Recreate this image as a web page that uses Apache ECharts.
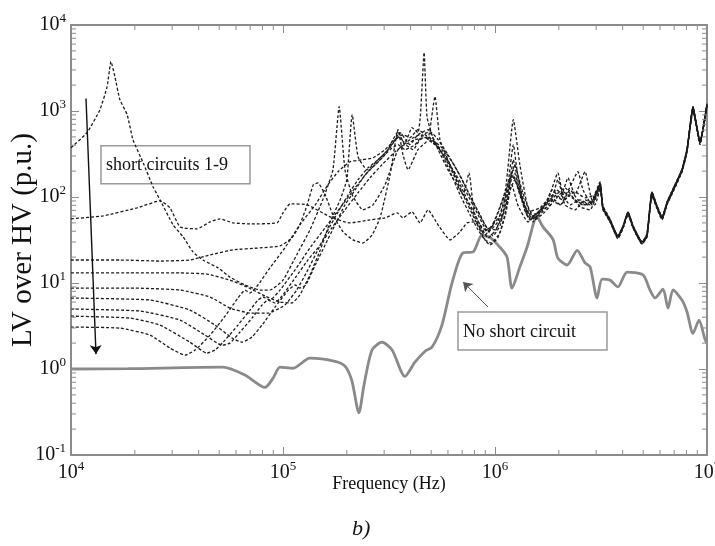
<!DOCTYPE html>
<html>
<head>
<meta charset="utf-8">
<script src="https://cdn.jsdelivr.net/npm/echarts@6/dist/echarts.min.js"></script>
<style>
  html, body { margin: 0; padding: 0; background: #ffffff; }
  #chart { width: 715px; height: 546px; }
</style>
</head>
<body>
<div id="chart"></div>
<script>
// Transfer function LV/HV in p.u. versus frequency in Hz: [frequency, magnitude]
const sc1 = [[1.00e4,374],[1.19e4,560],[1.37e4,1038],[1.48e4,1920],[1.544e4,3765],[1.61e4,2520],[1.70e4,1358],[1.84e4,908],[1.96e4,464],[2.19e4,250],[2.44e4,131],[2.63e4,92.7],[3.03e4,47.4],[3.38e4,34.4],[3.76e4,23.0],[4.19e4,18.5],[4.94e4,15.0],[5.62e4,11.7],[6.62e4,9.48],[7.79e4,8.28],[8.68e4,8.28],[1.0e5,10.8],[1.16e5,21.2],[1.34e5,41.5],[1.54e5,92.7],[1.72e5,207],[1.84e5,1125],[1.96e5,207],[2.12e5,106],[2.38e5,70.9],[2.66e5,81.1],[3.03e5,139],[3.49e5,355],[3.97e5,464],[4.43e5,531],[4.94e5,464],[5.50e5,355],[6.34e5,207],[7.22e5,121],[8.32e5,62.0],[9.27e5,39.3],[1.03e6,51.4],[1.15e6,139],[1.22e6,406],[1.28e6,181],[1.43e6,67.2],[1.63e6,74.8],[1.88e6,106],[2.09e6,92.7],[2.38e6,115],[2.66e6,97.9],[2.96e6,106],[3.13e6,139],[3.23e6,76.9],[3.49e6,51.4],[3.80e6,33.4],[4.02e6,43.8],[4.24e6,62.0],[4.48e6,43.8],[4.94e6,28.5],[5.21e6,35.3],[5.50e6,106],[5.81e6,74.8],[6.14e6,55.7],[6.48e6,83.3],[6.92e6,118],[7.63e6,202],[8.05e6,345],[8.59e6,1038],[9.27e6,429],[1.0e7,1156]];

const sc2 = [[1.0e4,55.7],[1.42e4,60.4],[2.05e4,74.8],[2.63e4,90.3],[2.93e4,74.8],[3.27e4,44.9],[3.93e4,42.6],[4.53e4,51.4],[5.05e4,55.7],[5.81e4,50.0],[6.99e4,48.7],[9.37e4,50.0],[1.0e5,65.4],[1.08e5,83.3],[1.30e5,81.1],[1.67e5,58.7],[2.07e5,50.0],[2.57e5,54.2],[3.03e5,57.2],[3.45e5,65.4],[3.68e5,57.2],[4.06e5,67.2],[4.43e5,50.0],[4.83e5,70.9],[5.39e5,47.4],[6.14e5,31.7],[6.84e5,39.3],[7.38e5,50.0],[8.05e5,51.4],[8.97e5,36.2],[9.79e5,47.4],[1.09e6,92.7],[1.22e6,207],[1.31e6,121],[1.46e6,57.2],[1.63e6,67.2],[1.82e6,81.1],[1.98e6,159],[2.14e6,81.1],[2.38e6,70.9],[2.66e6,92.7],[2.96e6,81.1],[3.13e6,128],[3.23e6,72.9],[3.49e6,52.8],[3.80e6,35.3],[4.02e6,46.2],[4.24e6,67.2],[4.48e6,46.2],[4.94e6,30.1],[5.21e6,36.2],[5.50e6,115],[5.81e6,78.9],[6.14e6,58.7],[6.48e6,87.9],[6.92e6,125],[7.63e6,213],[8.05e6,365],[8.59e6,1125],[9.27e6,440],[1.0e7,1220]];

const sc3 = [[1.0e4,18.5],[1.70e4,18.5],[2.63e4,18.0],[3.64e4,18.5],[4.53e4,21.2],[5.81e4,24.3],[7.79e4,25.6],[9.68e4,27.0],[1.10e5,33.4],[1.20e5,47.4],[1.30e5,81.1],[1.39e5,139],[1.46e5,146],[1.58e5,106],[1.72e5,62.0],[1.92e5,39.3],[2.14e5,31.7],[2.38e5,29.2],[2.63e5,36.2],[2.87e5,57.2],[3.20e5,181],[3.49e5,607],[3.68e5,310],[3.89e5,207],[4.33e5,355],[4.83e5,464],[5.21e5,1472],[5.50e5,464],[6.14e5,237],[7.07e5,106],[8.05e5,54.2],[8.97e5,31.7],[9.47e5,27.7],[1.03e6,33.4],[1.12e6,62.0],[1.20e6,139],[1.28e6,81.1],[1.43e6,51.4],[1.63e6,70.9],[1.78e6,92.7],[1.98e6,191],[2.09e6,106],[2.26e6,81.1],[2.52e6,92.7],[2.81e6,81.1],[3.13e6,142],[3.23e6,78.9],[3.49e6,55.7],[3.80e6,34.4],[4.02e6,44.9],[4.24e6,65.4],[4.48e6,44.9],[4.94e6,29.2],[5.21e6,36.2],[5.50e6,112],[5.81e6,76.9],[6.14e6,57.2],[6.48e6,85.5],[6.92e6,121],[7.63e6,207],[8.05e6,355],[8.59e6,1096],[9.27e6,428],[1.0e7,1186]];

const sc4 = [[1.0e4,13.1],[1.90e4,13.1],[3.27e4,13.1],[4.38e4,12.7],[5.62e4,10.8],[6.77e4,8.98],[8.23e4,7.06],[9.68e4,6.01],[1.10e5,5.85],[1.20e5,7.24],[1.34e5,12.4],[1.50e5,24.3],[1.67e5,51.4],[1.86e5,92.7],[2.00e5,159],[2.12e5,908],[2.26e5,294],[2.49e5,207],[2.81e5,271],[3.13e5,355],[3.38e5,464],[3.56e5,560],[3.97e5,406],[4.33e5,531],[4.83e5,607],[5.39e5,355],[6.00e5,207],[6.84e5,121],[7.63e5,81.1],[8.50e5,47.4],[9.27e5,39.3],[1.02e6,62.0],[1.12e6,121],[1.22e6,794],[1.31e6,237],[1.42e6,81.1],[1.54e6,57.2],[1.72e6,81.1],[1.86e6,121],[2.03e6,97.9],[2.21e6,167],[2.38e6,106],[2.66e6,197],[2.87e6,92.7],[3.13e6,150],[3.23e6,74.8],[3.49e6,54.2],[3.80e6,35.3],[4.02e6,46.2],[4.24e6,65.4],[4.48e6,46.2],[4.94e6,30.1],[5.21e6,37.2],[5.50e6,112],[5.81e6,78.9],[6.14e6,58.7],[6.48e6,85.5],[6.92e6,121],[7.63e6,207],[8.05e6,355],[8.59e6,1096],[9.27e6,428],[1.0e7,1186]];

const sc5 = [[1.0e4,8.74],[1.90e4,8.74],[3.27e4,8.28],[4.53e4,6.87],[5.62e4,5.11],[6.99e4,4.47],[8.50e4,4.47],[1.02e5,5.54],[1.16e5,8.28],[1.31e5,14.2],[1.46e5,24.3],[1.63e5,41.5],[1.82e5,67.2],[2.03e5,106],[2.26e5,159],[2.52e5,219],[2.81e5,271],[3.20e5,374],[3.49e5,503],[3.76e5,428],[4.06e5,641],[4.33e5,560],[4.45e5,900],[4.63e5,4790],[4.78e5,850],[5.10e5,490],[5.50e5,355],[6.14e5,197],[6.84e5,106],[7.63e5,62.0],[8.32e5,41.5],[8.97e5,31.7],[9.58e5,29.2],[1.06e6,39.3],[1.15e6,92.7],[1.22e6,271],[1.28e6,159],[1.39e6,67.2],[1.51e6,51.4],[1.68e6,74.8],[1.82e6,92.7],[2.03e6,81.1],[2.26e6,121],[2.46e6,92.7],[2.75e6,81.1],[3.06e6,103],[3.13e6,135],[3.23e6,70.9],[3.49e6,51.4],[3.80e6,32.6],[4.02e6,43.8],[4.24e6,63.7],[4.48e6,43.8],[4.94e6,28.5],[5.21e6,34.4],[5.50e6,103],[5.81e6,72.9],[6.14e6,54.2],[6.48e6,81.1],[6.92e6,115],[7.63e6,197],[8.05e6,336],[8.59e6,984],[9.27e6,406],[1.0e7,1125]];

const sc6 = [[1.0e4,6.68],[2.36e4,6.34],[3.64e4,4.85],[4.78e4,3.24],[5.75e4,2.29],[6.41e4,2.05],[7.14e4,2.35],[7.96e4,3.24],[9.17e4,5.25],[1.06e5,8.28],[1.14e5,9.48],[1.20e5,8.74],[1.28e5,9.48],[1.42e5,16.2],[1.58e5,27.7],[1.76e5,47.4],[1.96e5,81.1],[2.19e5,121],[2.44e5,181],[2.72e5,237],[3.03e5,310],[3.30e5,464],[3.49e5,575],[3.76e5,406],[4.20e5,464],[4.68e5,490],[5.05e5,428],[5.62e5,355],[6.48e5,181],[7.22e5,106],[8.05e5,57.2],[8.78e5,39.3],[9.47e5,43.8],[1.06e6,62.0],[1.18e6,159],[1.24e6,237],[1.34e6,121],[1.49e6,62.0],[1.63e6,67.2],[1.82e6,92.7],[1.94e6,121],[2.14e6,106],[2.46e6,197],[2.60e6,121],[2.87e6,81.1],[3.13e6,146],[3.23e6,76.9],[3.49e6,52.8],[3.80e6,34.4],[4.02e6,44.9],[4.24e6,65.4],[4.48e6,44.9],[4.94e6,29.2],[5.21e6,35.3],[5.50e6,109],[5.81e6,76.9],[6.14e6,57.2],[6.48e6,83.3],[6.92e6,118],[7.63e6,202],[8.05e6,345],[8.59e6,1067],[9.27e6,429],[1.0e7,1156]];

const sc7 = [[1.0e4,4.98],[2.12e4,4.72],[3.27e4,3.71],[4.29e4,2.48],[5.16e4,1.89],[5.62e4,2.00],[6.27e4,2.69],[7.14e4,3.91],[7.96e4,5.54],[8.50e4,6.34],[9.17e4,5.85],[9.89e4,7.06],[1.14e5,11.4],[1.31e5,18.5],[1.50e5,27.7],[1.70e5,43.8],[1.96e5,70.9],[2.26e5,112],[2.57e5,167],[2.93e5,237],[3.38e5,336],[3.76e5,406],[4.11e5,355],[4.43e5,464],[4.83e5,503],[5.27e5,406],[5.81e5,286],[6.48e5,167],[7.07e5,106],[7.54e5,191],[7.96e5,67.2],[8.50e5,47.4],[9.27e5,33.4],[1.01e6,41.5],[1.12e6,81.1],[1.20e6,181],[1.27e6,139],[1.39e6,74.8],[1.54e6,54.2],[1.72e6,67.2],[1.92e6,92.7],[2.09e6,115],[2.31e6,97.9],[2.60e6,81.1],[2.90e6,92.7],[3.13e6,142],[3.23e6,74.8],[3.49e6,54.2],[3.80e6,34.4],[4.02e6,44.9],[4.24e6,65.4],[4.48e6,44.9],[4.94e6,29.2],[5.21e6,36.2],[5.50e6,112],[5.81e6,76.9],[6.14e6,57.2],[6.48e6,85.5],[6.92e6,121],[7.63e6,207],[8.05e6,355],[8.59e6,1096],[9.27e6,428],[1.0e7,1186]];

const sc8 = [[1.0e4,4.12],[1.90e4,3.91],[2.63e4,3.24],[3.64e4,2.05],[4.38e4,1.53],[4.78e4,1.66],[5.33e4,2.17],[6.13e4,3.24],[6.99e4,4.85],[7.62e4,6.34],[8.05e4,6.87],[8.68e4,6.34],[9.68e4,8.28],[1.14e5,14.2],[1.34e5,25.6],[1.58e5,43.8],[1.86e5,74.8],[2.19e5,128],[2.52e5,197],[2.87e5,271],[3.20e5,355],[3.49e5,406],[3.76e5,355],[4.20e5,406],[4.58e5,531],[4.94e5,575],[5.39e5,464],[6.00e5,310],[6.69e5,197],[7.46e5,115],[8.23e5,70.9],[8.97e5,47.4],[9.79e5,35.3],[1.06e6,47.4],[1.14e6,106],[1.22e6,181],[1.31e6,106],[1.46e6,54.2],[1.63e6,62.0],[1.78e6,81.1],[1.92e6,103],[2.14e6,128],[2.38e6,92.7],[2.66e6,81.1],[2.96e6,97.9],[3.13e6,139],[3.23e6,76.9],[3.49e6,54.2],[3.80e6,35.3],[4.02e6,46.2],[4.24e6,67.2],[4.48e6,46.2],[4.94e6,30.1],[5.21e6,37.2],[5.50e6,115],[5.81e6,78.9],[6.14e6,58.7],[6.48e6,87.9],[6.92e6,125],[7.63e6,213],[8.05e6,365],[8.59e6,1125],[9.27e6,440],[1.0e7,1220]];

const sc9 = [[1.0e4,3.07],[1.70e4,2.99],[2.36e4,2.48],[2.93e4,1.75],[3.45e4,1.45],[3.85e4,1.66],[4.53e4,2.48],[5.33e4,4.12],[6.13e4,6.68],[6.62e4,8.28],[6.99e4,7.64],[7.62e4,9.48],[8.68e4,15.0],[1.02e5,25.6],[1.20e5,47.4],[1.42e5,81.1],[1.63e5,139],[1.82e5,197],[2.07e5,257],[2.36e5,271],[2.66e5,286],[3.03e5,355],[3.38e5,464],[3.68e5,531],[3.97e5,490],[4.33e5,607],[4.68e5,531],[5.05e5,464],[5.62e5,374],[6.27e5,257],[6.99e5,159],[7.79e5,92.7],[8.50e5,62.0],[9.17e5,43.8],[1.0e6,41.5],[1.09e6,62.0],[1.18e6,121],[1.24e6,159],[1.34e6,92.7],[1.49e6,57.2],[1.67e6,74.8],[1.86e6,97.9],[2.03e6,81.1],[2.26e6,106],[2.52e6,76.9],[2.81e6,70.9],[3.13e6,131],[3.23e6,72.9],[3.49e6,51.4],[3.80e6,33.4],[4.02e6,43.8],[4.24e6,63.7],[4.48e6,43.8],[4.94e6,28.5],[5.21e6,34.4],[5.50e6,106],[5.81e6,74.8],[6.14e6,55.7],[6.48e6,83.3],[6.92e6,118],[7.63e6,202],[8.05e6,345],[8.59e6,1038],[9.27e6,429],[1.0e7,1156]];

// Healthy winding (no short circuit)
const noShort = [[1.0e4,1.0],[1.86e4,1.01],[5.21e4,1.05],[6.62e4,0.85],[8.22e4,0.61],[8.97e4,0.78],[9.68e4,1.05],[1.115e5,1.02],[1.34e5,1.34],[1.76e5,1.23],[1.96e5,1.08],[2.11e5,0.74],[2.28e5,0.31],[2.41e5,0.65],[2.63e5,1.66],[2.93e5,2.05],[3.27e5,1.66],[3.76e5,0.82],[4.19e5,1.20],[4.68e5,1.61],[5.05e5,1.80],[5.62e5,3.24],[6.27e5,10],[7.06e5,22.4],[7.88e5,23],[8.68e5,36],[9.47e5,34],[1.056e6,26],[1.14e6,20],[1.203e6,8.7],[1.31e6,15.4],[1.416e6,26],[1.578e6,59],[1.684e6,45],[1.879e6,32],[1.98e6,19.5],[2.19e6,16.2],[2.44e6,24],[2.66e6,17.1],[2.81e6,15.4],[3.03e6,6.7],[3.20e6,11.1],[3.49e6,10.8],[3.80e6,9.0],[4.20e6,13.4],[4.99e6,12.4],[5.38e6,8.3],[5.69e6,6.7],[6.20e6,8.5],[6.55e6,5.1],[6.92e6,8.3],[7.63e6,6.3],[8.05e6,4.6],[8.59e6,2.6],[9.17e6,3.7],[9.79e6,2.2],[1.0e7,2.0]];

const shortCircuits = [sc1, sc2, sc3, sc4, sc5, sc6, sc7, sc8, sc9];

// axis ranges (decades)
const X_MIN = 1e4, X_MAX = 1e7;
const Y_MIN = 1e-1, Y_MAX = 1e4;

// minor log ticks 2..9 within each decade
const xMinor = [];
for (let d = 4; d < 7; d++) for (let m = 2; m <= 9; m++) xMinor.push(m * Math.pow(10, d));
const yMinor = [];
for (let d = -1; d < 4; d++) for (let m = 2; m <= 9; m++) yMinor.push(m * Math.pow(10, d));

const SERIF = '"Liberation Serif", "Times New Roman", serif';
const AXIS_COLOR = '#8c8c8c';
const TEXT_COLOR = '#111111';

const powerLabel = v => '{b|10}{e|' + Math.round(Math.log10(v)) + '}';
const labelRich = {
  b: { fontFamily: SERIF, fontSize: 20, color: TEXT_COLOR, lineHeight: 26 },
  e: { fontFamily: SERIF, fontSize: 13, color: TEXT_COLOR, lineHeight: 13, verticalAlign: 'top' }
};

function logAxis(extra) {
  return Object.assign({
    type: 'log',
    logBase: 10,
    axisLine: { show: true, onZero: false, lineStyle: { color: AXIS_COLOR, width: 2 } },
    axisTick: { show: true, inside: true, length: 8, lineStyle: { color: AXIS_COLOR, width: 1 } },
    minorTick: { show: false },
    splitLine: { show: false },
    minorSplitLine: { show: false }
  }, extra);
}

const minorTickData = xMinor.map(v => [v, 1, 0]).concat(yMinor.map(v => [1e5, v, 1]));

function renderMinorTick(params, api) {
  const cs = params.coordSys;
  const style = { stroke: AXIS_COLOR, lineWidth: 1 };
  if (api.value(2) === 0) {
    const x = api.coord([api.value(0), 1])[0];
    const b = cs.y + cs.height, t = cs.y;
    return { type: 'group', children: [
      { type: 'line', shape: { x1: x, y1: b, x2: x, y2: b - 5 }, style: style },
      { type: 'line', shape: { x1: x, y1: t, x2: x, y2: t + 5 }, style: style }
    ] };
  }
  const y = api.coord([1e5, api.value(1)])[1];
  const l = cs.x, r = cs.x + cs.width;
  return { type: 'group', children: [
    { type: 'line', shape: { x1: l, y1: y, x2: l + 5, y2: y }, style: style },
    { type: 'line', shape: { x1: r, y1: y, x2: r - 5, y2: y }, style: style }
  ] };
}

const dashedSeries = shortCircuits.map((d, i) => ({
  name: 'short circuit ' + (i + 1),
  type: 'line',
  data: d,
  symbol: 'none',
  smooth: 0.15,
  lineStyle: { color: '#1c1c1c', width: 1.3, type: [3, 2] },
  z: 3
}));

const chart = echarts.init(document.getElementById('chart'), null, { renderer: 'canvas' });

chart.setOption({
  animation: false,
  backgroundColor: '#ffffff',
  grid: { left: 71, right: 8, top: 25, bottom: 91, containLabel: false, outerBoundsMode: 'none' },
  xAxis: [
    logAxis({
      min: X_MIN, max: X_MAX, position: 'bottom',
      axisLabel: { formatter: powerLabel, rich: labelRich, margin: 5, showMinLabel: true, showMaxLabel: true },
      name: 'Frequency (Hz)', nameLocation: 'middle', nameGap: 20, nameMoveOverlap: false,
      nameTextStyle: { fontFamily: SERIF, fontSize: 18, color: TEXT_COLOR }
    }),
    logAxis({ min: X_MIN, max: X_MAX, position: 'top', axisLabel: { show: false } })
  ],
  yAxis: [
    logAxis({
      min: Y_MIN, max: Y_MAX, position: 'left',
      axisLabel: { formatter: powerLabel, rich: labelRich, margin: 5, showMinLabel: true, showMaxLabel: true },
      name: 'LV over HV (p.u.)', nameLocation: 'middle', nameGap: 33, nameMoveOverlap: false,
      nameTextStyle: { fontFamily: SERIF, fontSize: 29, color: TEXT_COLOR }
    }),
    logAxis({ min: Y_MIN, max: Y_MAX, position: 'right', axisLabel: { show: false } })
  ],
  series: dashedSeries.concat([
    {
      name: 'No short circuit',
      type: 'line',
      data: noShort,
      symbol: 'none',
      smooth: 0.25,
      lineStyle: { color: '#8a8a8a', width: 2.8 },
      z: 2,
      markLine: {
        silent: true,
        symbol: ['none', 'arrow'],
        symbolSize: 9,
        label: { show: false },
        data: [
          [{ coord: [11770, 1395], lineStyle: { color: '#111111', width: 1.4, type: 'solid' } },
           { coord: [13120, 1.49] }],
          [{ coord: [9.27e5, 5.25], lineStyle: { color: '#555555', width: 1, type: 'solid' } },
           { coord: [7.07e5, 10.3] }]
        ]
      }
    },
    {
      name: 'minor ticks',
      type: 'custom',
      data: minorTickData,
      renderItem: renderMinorTick,
      silent: true,
      clip: false,
      z: 5
    }
  ])
});

// label boxes anchored in data space
const boxA = chart.convertToPixel({ xAxisIndex: 0, yAxisIndex: 0 }, [13850, 395]);
const boxB = chart.convertToPixel({ xAxisIndex: 0, yAxisIndex: 0 }, [6.69e5, 4.59]);

function labelBox(p, w, h, text) {
  return {
    type: 'group', x: p[0], y: p[1], children: [
      { type: 'rect', shape: { x: 0, y: 0, width: w, height: h },
        style: { fill: 'none', stroke: '#9a9a9a', lineWidth: 1.5 } },
      { type: 'text', x: 5, y: h / 2 + 1,
        style: { text: text, font: '18px ' + SERIF, fill: TEXT_COLOR, verticalAlign: 'middle', align: 'left' } }
    ]
  };
}

chart.setOption({
  graphic: [
    labelBox(boxA, 149, 38, 'short circuits 1-9'),
    labelBox(boxB, 149, 38, 'No short circuit'),
    { type: 'text', x: 352, y: 518,
      style: { text: 'b)', font: 'italic 22px ' + SERIF, fill: TEXT_COLOR } }
  ]
});
</script>
</body>
</html>
